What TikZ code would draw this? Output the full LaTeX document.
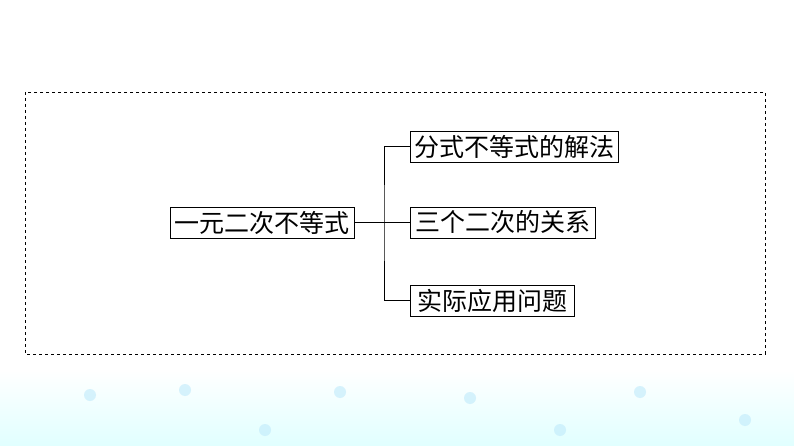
\documentclass[tikz,border=0pt]{standalone}
\usepackage{fontspec}
\newfontfamily\cjk{Noto Sans CJK SC}
\begin{document}
\begin{tikzpicture}[x=1pt,y=-1pt,
  box/.style={draw=black,line width=0.8pt,inner sep=1pt,font=\cjk\fontsize{25}{25}\selectfont,anchor=west,minimum height=31pt},
  link/.style={draw=black,line width=0.8pt}]
\useasboundingbox (0,0) rectangle (794,446);
\shade[top color=white,bottom color=cyan!12] (0,370) rectangle (794,446);
\foreach \x/\y in {90/395,185/390,265/430,340/392,470/398,560/430,640/392,745/420}
  \fill[cyan!25,opacity=0.6] (\x,\y) circle (6);
\draw[dashed,line width=0.8pt] (25,92) rectangle (765,354);
\node[box,minimum width=184pt] (m) at (170,222.5) {一元二次不等式};
\node[box,minimum width=208pt] (a) at (410,146.5) {分式不等式的解法};
\node[box,minimum width=185pt] (b) at (410,222.5) {三个二次的关系};
\node[box,minimum width=164pt] (c) at (410,300.5) {实际应用问题};
\coordinate (j) at (384,222.5);
\draw[link] (m.east) -- (b.west);
\draw[link] (a.west) -| (j) |- (c.west);
\end{tikzpicture}
\end{document}
